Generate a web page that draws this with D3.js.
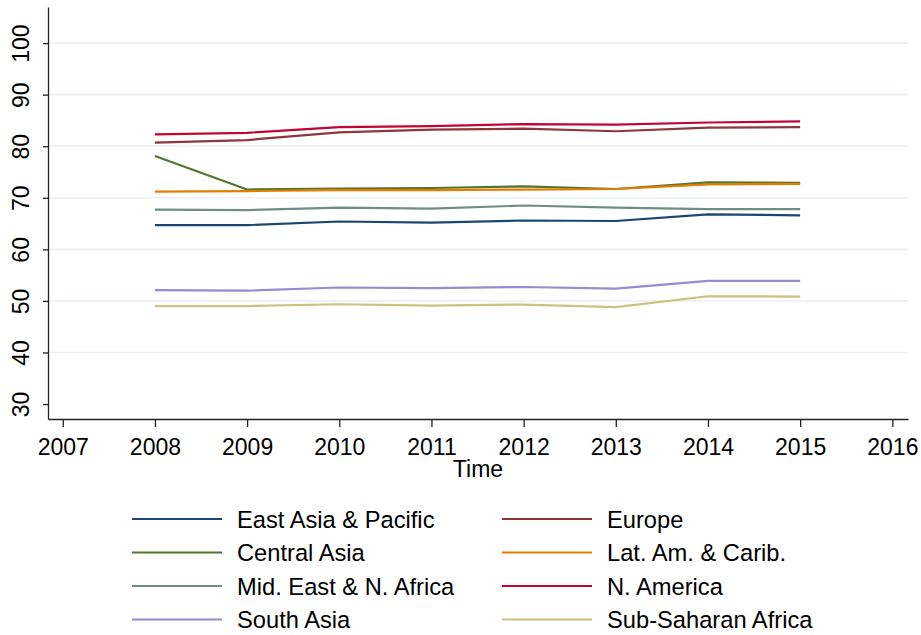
<!DOCTYPE html>
<html>
<head>
<meta charset="utf-8">
<script src="https://cdn.jsdelivr.net/npm/d3@7"></script>
<style>
	body { margin: 0; background: #fff; }
	svg { font-family: "Liberation Sans", Arial, sans-serif; }
</style>
</head>
<body>
<svg id="chart" width="921" height="635"></svg>
<script>
// values
const years = [2008, 2009, 2010, 2011, 2012, 2013, 2014, 2015]
const xTicks = [2007, 2008, 2009, 2010, 2011, 2012, 2013, 2014, 2015, 2016]
const yTicks = [30, 40, 50, 60, 70, 80, 90, 100]

const eastAsia = [64.7, 64.7, 65.4, 65.2, 65.6, 65.5, 66.8, 66.6]
const europe = [80.7, 81.2, 82.7, 83.2, 83.4, 82.9, 83.6, 83.7]
const centralAsia = [78.1, 71.6, 71.8, 71.9, 72.2, 71.7, 73.0, 72.9]
const latAm = [71.2, 71.3, 71.5, 71.5, 71.6, 71.7, 72.6, 72.7]
const midEast = [67.7, 67.6, 68.1, 67.9, 68.5, 68.1, 67.8, 67.8]
const nAmerica = [82.3, 82.6, 83.7, 83.9, 84.3, 84.2, 84.6, 84.8]
const southAsia = [52.1, 52.0, 52.6, 52.5, 52.7, 52.4, 53.9, 53.9]
const subSaharan = [49.0, 49.0, 49.35, 49.1, 49.3, 48.8, 50.9, 50.85]

// legend order (row by row, two columns)
const regions = ['East Asia & Pacific', 'Europe', 'Central Asia', 'Lat. Am. & Carib.',
	'Mid. East & N. Africa', 'N. America', 'South Asia', 'Sub-Saharan Africa']
const regionValues = [eastAsia, europe, centralAsia, latAm, midEast, nAmerica, southAsia, subSaharan]
const regionColors = ['#1a476f', '#90353b', '#55752f', '#e37e00',
	'#6e8e84', '#c10534', '#938dd2', '#cac27e']

const svg = d3.select('#chart')
const plotLeft = 48, plotRight = 908, plotTop = 7, plotBottom = 419

const x = d3.scaleLinear()
	.domain([2006.84, 2016.17])
	.range([plotLeft, plotRight])

const y = d3.scaleLinear()
	.domain([27.1, 107])
	.range([plotBottom, plotTop])

/*---------------- grid ----------------*/
svg.append('g')
	.selectAll('line')
	.data(yTicks.filter(d => d > 30))
	.enter()
	.append('line')
	.attr('x1', plotLeft)
	.attr('x2', plotRight)
	.attr('y1', d => y(d))
	.attr('y2', d => y(d))
	.attr('stroke', '#eaf1f4')
	.attr('stroke-width', 1.6)

/*---------------- axes ----------------*/
const yAxis = svg.append('g')
	.attr('transform', `translate(${plotLeft},0)`)
	.call(d3.axisLeft(y).tickValues(yTicks).tickSize(5).tickSizeOuter(0))

yAxis.select('.domain').attr('stroke', '#222').attr('stroke-width', 1.3)
yAxis.selectAll('.tick line').attr('stroke', '#222').attr('stroke-width', 1.3)
yAxis.selectAll('.tick text')
	.attr('transform', 'rotate(-90)')
	.attr('x', 0)
	.attr('y', -19)
	.attr('dy', 0)
	.attr('text-anchor', 'middle')
	.attr('fill', '#000')
	.style('font-size', '23px')

const xAxis = svg.append('g')
	.attr('transform', `translate(0,${plotBottom})`)
	.call(d3.axisBottom(x).tickValues(xTicks).tickFormat(d3.format('d')).tickSize(8).tickSizeOuter(0))

xAxis.select('.domain').attr('stroke', '#222').attr('stroke-width', 1.3)
xAxis.selectAll('.tick line').attr('stroke', '#222').attr('stroke-width', 1.3)
xAxis.selectAll('.tick text')
	.attr('y', 36)
	.attr('dy', 0)
	.attr('fill', '#000')
	.style('font-size', '23px')

svg.append('text')
	.attr('x', (plotLeft + plotRight) / 2)
	.attr('y', 477)
	.attr('text-anchor', 'middle')
	.style('font-size', '23px')
	.text('Time')

/*---------------- lines ----------------*/
const line = d3.line()
	.x((d, i) => x(years[i]))
	.y(d => y(d))

svg.append('g')
	.selectAll('path')
	.data(regionValues)
	.enter()
	.append('path')
	.attr('d', d => line(d))
	.attr('fill', 'none')
	.attr('stroke', (d, i) => regionColors[i])
	.attr('stroke-width', 2.2)
	.attr('stroke-linejoin', 'round')

/*---------------- legend ----------------*/
const legend = svg.append('g')
	.selectAll('g')
	.data(regions)
	.enter()
	.append('g')
	.attr('transform', (d, i) => `translate(${i % 2 === 0 ? 132 : 502},${519 + Math.floor(i / 2) * 33.5})`)

legend.append('line')
	.attr('x1', 0)
	.attr('x2', 90)
	.attr('stroke', (d, i) => regionColors[i])
	.attr('stroke-width', 2.2)

legend.append('text')
	.attr('x', 105)
	.attr('y', 8.5)
	.style('font-size', '23.7px')
	.text(d => d)
</script>
</body>
</html>
